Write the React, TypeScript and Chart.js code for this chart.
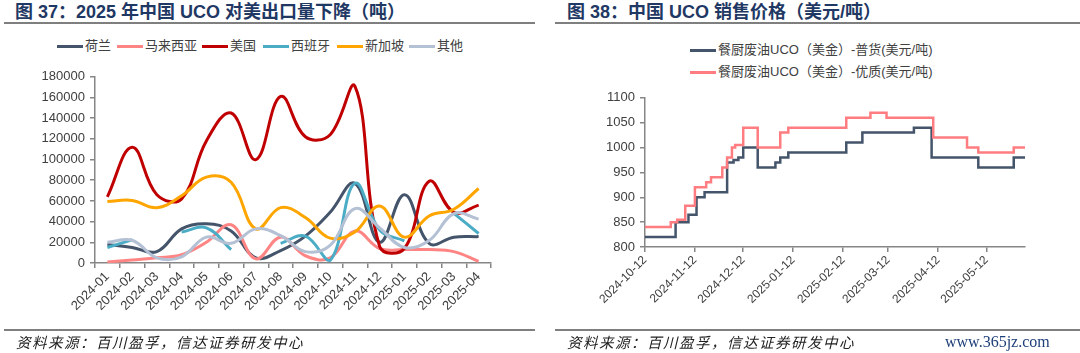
import React, { useEffect, useRef } from "react";
import { Chart, registerables } from "chart.js";
Chart.register(...registerables);

// ---------- Chart 37 data ----------
const months = [
  "2024-01", "2024-02", "2024-03", "2024-04", "2024-05", "2024-06", "2024-07", "2024-08",
  "2024-09", "2024-10", "2024-11", "2024-12", "2025-01", "2025-02", "2025-03", "2025-04",
];
const netherlands = [18000, 15000, 11000, 33000, 38000, 31000, 5000, 12000, 26000, 49000, 77000, 20000, 66000, 19000, 25000, 25500];
const malaysia = [1000, 3000, 5000, 8000, 20000, 37000, 4000, 25000, 7000, 5000, 31000, 14000, 13000, 13000, 11000, 1500];
const usa = [64000, 112000, 66000, 62000, 118000, 145000, 100000, 161000, 122000, 124000, 171000, 16000, 14000, 79000, 49000, 56000];
const spain: (number | null)[] = [15000, 22500, null, 30000, 34000, 13000, null, 19000, 26000, 2500, 77000, 32000, 21500, null, 48000, 28500];
const singapore = [59500, 60500, 53500, 65000, 83000, 78000, 33000, 53500, 44000, 24000, 30000, 55000, 25000, 45500, 52000, 72000];
const others = [20000, 22000, 5000, 6000, 25000, 19000, 33000, 26500, 11000, 17000, 52500, 34000, 15000, 21700, 47800, 42400];

const seriesNames = ["荷兰", "马来西亚", "美国", "西班牙", "新加坡", "其他"];
const seriesColors = ["#44546A", "#FF8585", "#C00000", "#4BACC6", "#FFA500", "#B4C0D4"];

// ---------- Chart 38 data ----------
const commonDates = [
  "2024-10-12", "2024-10-31", "2024-11-08", "2024-11-13", "2024-11-18", "2024-12-02", "2024-12-06",
  "2024-12-09", "2024-12-12", "2024-12-21", "2025-01-01", "2025-01-04", "2025-01-09", "2025-02-14",
  "2025-02-24", "2025-03-28", "2025-04-08", "2025-05-07", "2025-05-29", "2025-06-05",
];
const commonPrices = [820, 850, 865, 900, 910, 970, 975, 980, 1000, 960, 970, 980, 990, 1010, 1030, 1040, 980, 960, 980, 980];
const premiumDates = [
  "2024-10-12", "2024-10-28", "2024-11-01", "2024-11-06", "2024-11-12", "2024-11-19", "2024-11-22",
  "2024-11-29", "2024-12-02", "2024-12-05", "2024-12-07", "2024-12-12", "2024-12-21", "2025-01-04",
  "2025-01-09", "2025-02-14", "2025-03-01", "2025-03-11", "2025-04-09", "2025-04-30", "2025-05-07",
  "2025-05-29", "2025-06-05",
];
const premiumPrices = [840, 850, 855, 883, 920, 930, 940, 960, 980, 1000, 1005, 1040, 1000, 1030, 1040, 1060, 1070, 1060, 1020, 1000, 990, 1000, 1000];
const priceTickDates = ["2024-10-12", "2024-11-12", "2024-12-12", "2025-01-12", "2025-02-12", "2025-03-12", "2025-04-12", "2025-05-12"];
const priceSeriesNames = ["餐厨废油UCO（美金）-普货(美元/吨)", "餐厨废油UCO（美金）-优质(美元/吨)"];
const priceColors = ["#44546A", "#FF7C80"];

const startDate = "2024-10-12";
const endDate = "2025-06-05";

const dayOf = (s: string) => {
  const [y, m, d] = s.split("-").map(Number);
  const [y0, m0, d0] = startDate.split("-").map(Number);
  return Math.round((Date.UTC(y, m - 1, d) - Date.UTC(y0, m0 - 1, d0)) / 86400000);
};

const FONT = "'Liberation Sans', Arial, 'Noto Sans CJK SC', sans-serif";
const AXIS = "#868686";
const TICK_TEXT = "#404040";
const TITLE_COLOR = "#1F3864";

function ExportChart() {
  const ref = useRef<HTMLCanvasElement>(null);
  useEffect(() => {
    const all = [netherlands, malaysia, usa, spain, singapore, others];
    const chart = new Chart(ref.current!, {
      type: "line",
      data: {
        labels: months,
        datasets: all.map((d, i) => ({
          label: seriesNames[i],
          data: d,
          borderColor: seriesColors[i],
          backgroundColor: seriesColors[i],
          borderWidth: 3,
          pointRadius: 0,
          tension: 0.4,
          spanGaps: false,
          fill: false,
          order: all.length - i,
        })),
      },
      options: {
        animation: false,
        responsive: false,
        maintainAspectRatio: false,
        layout: { padding: { top: 10, right: 49, left: 0, bottom: 0 } },
        plugins: { legend: { display: false }, tooltip: { enabled: false } },
        scales: {
          x: {
            offset: true,
            grid: { offset: true, display: true, drawOnChartArea: false, tickLength: 5, color: AXIS, lineWidth: 1.5 },
            border: { display: true, color: AXIS, width: 1.5 },
            ticks: { autoSkip: false, minRotation: 45, maxRotation: 45, padding: 1, color: TICK_TEXT, font: { size: 13, family: FONT } },
            afterFit: (s: any) => { s.height = 67; },
          },
          y: {
            min: 0,
            max: 180000,
            grid: { display: true, drawOnChartArea: false, tickLength: 5, color: AXIS, lineWidth: 1.5 },
            border: { display: true, color: AXIS, width: 1.5 },
            ticks: { stepSize: 20000, padding: 5, color: TICK_TEXT, font: { size: 13, family: FONT }, callback: (v: any) => String(v) },
            afterFit: (s: any) => { s.width = 95; },
          },
        },
      },
    });
    return () => chart.destroy();
  }, []);
  return <canvas ref={ref} width={540} height={266} style={{ position: "absolute", left: 0, top: 64 }} />;
}

function PriceChart() {
  const ref = useRef<HTMLCanvasElement>(null);
  useEffect(() => {
    const tickDays = priceTickDates.map(dayOf);
    const mk = (dates: string[], vals: number[], i: number) => ({
      label: priceSeriesNames[i],
      data: dates.map((d, k) => ({ x: dayOf(d), y: vals[k] })),
      borderColor: priceColors[i],
      backgroundColor: priceColors[i],
      borderWidth: 2.5,
      pointRadius: 0,
      stepped: "before" as const,
      fill: false,
      order: 2 - i,
    });
    const chart = new Chart(ref.current!, {
      type: "line",
      data: { datasets: [mk(commonDates, commonPrices, 0), mk(premiumDates, premiumPrices, 1)] },
      options: {
        animation: false,
        responsive: false,
        maintainAspectRatio: false,
        layout: { padding: { top: 11, right: 55, left: 0, bottom: 0 } },
        plugins: { legend: { display: false }, tooltip: { enabled: false } },
        scales: {
          x: {
            type: "linear",
            min: 0,
            max: dayOf(endDate),
            afterBuildTicks: (s: any) => { s.ticks = tickDays.map((v) => ({ value: v })); },
            grid: { display: true, drawOnChartArea: false, tickLength: 5, color: AXIS, lineWidth: 1.5 },
            border: { display: true, color: AXIS, width: 1.5 },
            ticks: {
              autoSkip: false, minRotation: 45, maxRotation: 45, padding: 1, color: TICK_TEXT,
              font: { size: 12, family: FONT },
              callback: (_v: any, idx: number) => priceTickDates[idx],
            },
            afterFit: (s: any) => { s.height = 83; },
          },
          y: {
            min: 800,
            max: 1100,
            grid: { display: true, drawOnChartArea: false, tickLength: 5, color: AXIS, lineWidth: 1.5 },
            border: { display: true, color: AXIS, width: 1.5 },
            ticks: { stepSize: 50, padding: 5, color: TICK_TEXT, font: { size: 13, family: FONT }, callback: (v: any) => String(v) },
            afterFit: (s: any) => { s.width = 105; },
          },
        },
      },
    });
    return () => chart.destroy();
  }, []);
  return <canvas ref={ref} width={540} height={245} style={{ position: "absolute", left: 540, top: 85 }} />;
}

const abs = (o: React.CSSProperties): React.CSSProperties => ({ position: "absolute", ...o });

function LegendItem({ color, text, style }: { color: string; text: string; style: React.CSSProperties }) {
  return (
    <div style={abs({ display: "flex", alignItems: "center", whiteSpace: "nowrap", ...style })}>
      <div style={{ width: 26, height: 3, background: color, marginRight: 2 }} />
      <span style={{ fontFamily: FONT, fontSize: 13, color: "#404040", lineHeight: "16px" }}>{text}</span>
    </div>
  );
}

export default function App() {
  const legendLeft = [57, 117, 202, 263, 337, 409];
  return (
    <div style={abs({ left: 0, top: 0, width: 1080, height: 353, background: "#fff", overflow: "hidden" })}>
      {/* Left panel */}
      <div style={abs({ left: 15, top: 1, fontFamily: FONT, fontWeight: "bold", fontSize: 18, color: TITLE_COLOR, whiteSpace: "nowrap", lineHeight: "22px" })}>
        图 37：2025 年中国 UCO 对美出口量下降（吨）
      </div>
      <div style={abs({ left: 4, top: 22, width: 531, height: 2, background: "#7f7f7f" })} />
      {seriesNames.map((n, i) => (
        <LegendItem key={n} color={seriesColors[i]} text={n} style={{ left: legendLeft[i], top: 38 }} />
      ))}
      <ExportChart />
      <div style={abs({ left: 4, top: 329, width: 531, height: 2, background: "#7f7f7f" })} />
      <div style={abs({ left: 16, top: 332, fontFamily: "'Noto Sans CJK SC', sans-serif", fontStyle: "italic", fontSize: 14.5, letterSpacing: 1.5, color: "#222", whiteSpace: "nowrap", lineHeight: "20px" })}>
        资料来源：百川盈孚，信达证券研发中心
      </div>

      {/* Right panel */}
      <div style={abs({ left: 567, top: 1, fontFamily: FONT, fontWeight: "bold", fontSize: 18, color: TITLE_COLOR, whiteSpace: "nowrap", lineHeight: "22px" })}>
        图 38：中国 UCO 销售价格（美元/吨）
      </div>
      <div style={abs({ left: 555, top: 22, width: 525, height: 2, background: "#7f7f7f" })} />
      {priceSeriesNames.map((n, i) => (
        <LegendItem key={n} color={priceColors[i]} text={n} style={{ left: 690, top: 42 + i * 22 }} />
      ))}
      <PriceChart />
      <div style={abs({ left: 555, top: 329, width: 525, height: 2, background: "#7f7f7f" })} />
      <div style={abs({ left: 567, top: 332, fontFamily: "'Noto Sans CJK SC', sans-serif", fontStyle: "italic", fontSize: 14.5, letterSpacing: 1.5, color: "#222", whiteSpace: "nowrap", lineHeight: "20px" })}>
        资料来源：百川盈孚，信达证券研发中心
      </div>
      <div style={abs({ left: 945, top: 332, fontFamily: "'Liberation Serif', serif", fontSize: 16, color: "#1F3F7A", whiteSpace: "nowrap", lineHeight: "20px" })}>
        www.365jz.com
      </div>
    </div>
  );
}
